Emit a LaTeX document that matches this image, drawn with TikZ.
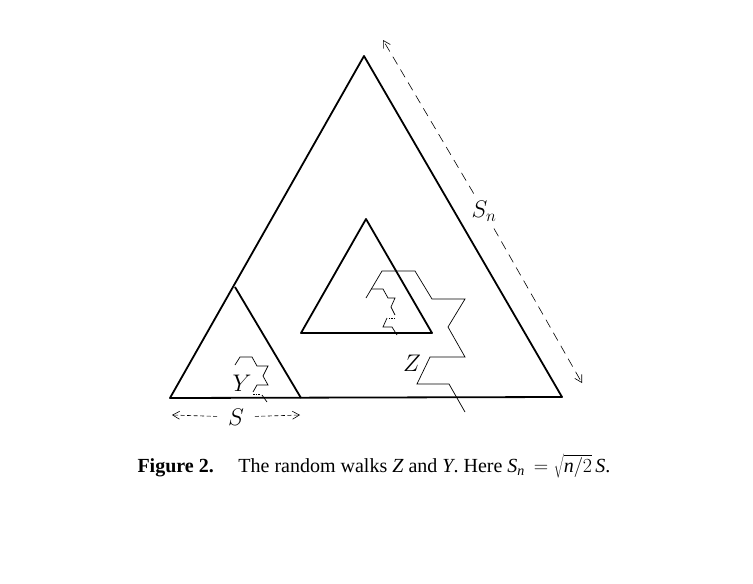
\RequirePackage{fix-cm}
\documentclass[tikz,border=0pt]{standalone}
\usepackage{fontspec}
\setmainfont{Liberation Serif}
\usetikzlibrary{arrows.meta}

\begin{document}
\begin{tikzpicture}[x=1pt, y=-1pt,
    >={Straight Barb[length=7pt, width=8pt]},
    side/.style={line width=1.8pt, line join=round},
    walk/.style={line width=0.7pt},
    gapwalk/.style={line width=0.7pt, dash pattern=on 1.5pt off 1pt},
    scale line/.style={->, line width=0.6pt, dash pattern=on 9pt off 6pt},
    small scale/.style={->, line width=0.6pt, dash pattern=on 4pt off 2.5pt},
    lab/.style={font=\fontsize{20}{24}\selectfont, scale=1.2, inner sep=2pt}]

    \useasboundingbox (0,0) rectangle (753,584);

    % corners of the triangles
    \coordinate (Top) at (364,56);
    \coordinate (BL) at (170,398);
    \coordinate (BR) at (562,397);

    \coordinate (YTop) at (235,287);
    \coordinate (YBR) at (301,398);

    \coordinate (ZTop) at (366,219);
    \coordinate (ZBL) at (301,333);
    \coordinate (ZBR) at (432,333);

    \draw[side] (Top) -- (BR) -- (BL) -- cycle;
    \draw[side] (YTop) -- (YBR);
    \draw[side] (ZTop) -- (ZBR) -- (ZBL) -- cycle;

    % ---------------------------------------------------------
    % walk Z
    \draw[walk] (465,412) -- (449,384) -- (417,384) -- (430,357) -- (465,357)
        -- (448,327) -- (465,299) -- (432,299) -- (415,271) -- (382,271)
        -- (366,298);
    \draw[walk] (371,289) -- (383,289) -- (388,298) -- (395,298) -- (391,307)
        -- (395,315);
    \draw[gapwalk] (395,318) -- (388,318);
    \draw[walk] (387,318) -- (383,327) -- (392,327) -- (397,335);

    % walk Y
    \draw[walk] (235,365) -- (240,357) -- (252,357) -- (257,366) -- (268,366)
        -- (263,376) -- (268,385) -- (257,385) -- (253,392);
    \draw[gapwalk] (253,394) -- (260,394);
    \draw[walk] (262,395) -- (267,402);

    \node[lab] (Z) at (412,363) {$Z$};
    \node[lab] (Y) at (242,383) {$Y$};

    % ---------------------------------------------------------
    % lengths S_n and S
    \coordinate (SnTop) at (383,40);
    \coordinate (SnBot) at (582,383);
    \node[lab, inner sep=6pt] (Sn) at (484,211) {$S_n$};
    \draw[scale line] (Sn) -- (SnTop);
    \draw[scale line] (Sn) -- (SnBot);

    \coordinate (SLeft) at (172,415);
    \coordinate (SRight) at (300,415);
    \node[lab, inner sep=9pt] (S) at (236,417) {$S$};
    \draw[small scale] (S) -- (SLeft);
    \draw[small scale] (S) -- (SRight);

    % ---------------------------------------------------------
    \node[font=\fontsize{20}{24}\selectfont, anchor=base] (caption) at (374,472)
    {\textbf{Figure 2.}\hspace{0.9em} The random walks \textit{Z} and \textit{Y}. Here
     \textit{S}\textsubscript{\textit{n}}\,${}=\sqrt{\textit{n}/2}\,$\textit{S}.};
\end{tikzpicture}
\end{document}
